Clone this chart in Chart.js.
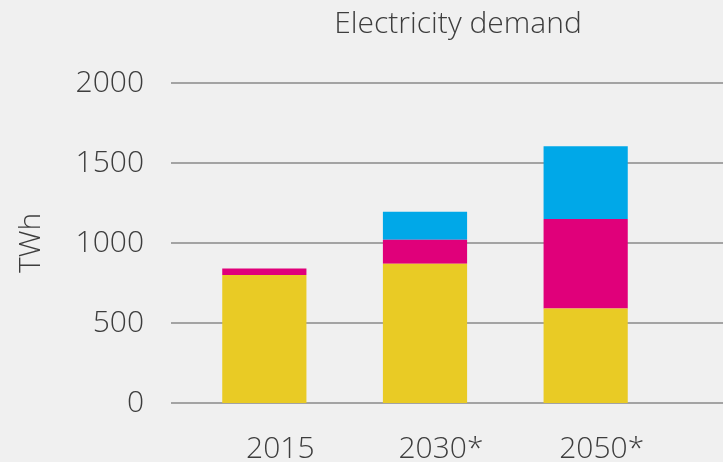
<!DOCTYPE html>
<html>
<head>
<meta charset="utf-8">
<script src="https://cdn.jsdelivr.net/npm/chart.js@4"></script>
<style>
  html, body { margin: 0; padding: 0; background: #f0f0f0; }
  #wrap { width: 723px; height: 462px; }
</style>
</head>
<body>
<div id="wrap"><canvas id="demand"></canvas></div>
<script>
const years = ['2015', '2030*', '2050*']
const yellowVals = [800, 870, 590]
const magentaVals = [40, 150, 560]
const cyanVals = [0, 175, 455]
const yTicks = [0, 500, 1000, 1500, 2000]

const font = 'Open Sans'
const textColor = '#3d3d3d'

// horizontal rules run wider than the bars' plot area, plus the heading
const rules = {
  id: 'rules',
  beforeDatasetsDraw(chart) {
    const ctx = chart.ctx
    const y = chart.scales.y
    ctx.save()
    ctx.strokeStyle = '#a3a3a3'
    ctx.lineWidth = 2
    yTicks.forEach(v => {
      const py = Math.round(y.getPixelForValue(v))
      ctx.beginPath()
      ctx.moveTo(chart.chartArea.left - 13, py)
      ctx.lineTo(chart.width, py)
      ctx.stroke()
    })
    ctx.restore()
  },
  afterDraw(chart) {
    const ctx = chart.ctx
    ctx.save()
    ctx.fillStyle = textColor
    ctx.font = '300 30px "' + font + '"'
    ctx.textAlign = 'center'
    ctx.textBaseline = 'middle'
    ctx.fillText('Electricity demand', 458, 24)
    ctx.restore()
  }
}

const demand = new Chart(document.getElementById('demand').getContext('2d'), {
  type: 'bar',
  data: {
    labels: years,
    datasets: [
      { data: yellowVals, backgroundColor: '#e9cb25' },
      { data: magentaVals, backgroundColor: '#e0007a' },
      { data: cyanVals, backgroundColor: '#00a8e8' }
    ]
  },
  options: {
    responsive: true,
    maintainAspectRatio: false,
    animation: false,
    layout: {
      padding: { top: 83, right: 57, bottom: 0, left: 0 }
    },
    datasets: {
      bar: { barPercentage: 0.524, categoryPercentage: 1 }
    },
    scales: {
      x: {
        stacked: true,
        grid: { display: false },
        border: { display: false },
        afterFit(scale) { scale.height = 59 },
        ticks: {
          color: textColor,
          padding: 23,
          labelOffset: 16,
          maxRotation: 0,
          font: { family: font, size: 30, weight: 300, lineHeight: 1 }
        }
      },
      y: {
        stacked: true,
        min: 0,
        max: 2000,
        grid: { display: false, drawTicks: false },
        border: { display: false },
        afterFit(scale) { scale.width = 184 },
        afterBuildTicks(scale) { scale.ticks = yTicks.map(v => ({ value: v })) },
        ticks: {
          color: textColor,
          padding: 40,
          callback: v => String(v),
          font: { family: font, size: 30, weight: 300 }
        },
        title: {
          display: true,
          text: 'TWh',
          color: textColor,
          padding: { top: 13, bottom: 0 },
          font: { family: font, size: 30, weight: 300 }
        }
      }
    },
    plugins: {
      legend: { display: false },
      tooltip: { enabled: false }
    }
  },
  plugins: [rules]
})
</script>
</body>
</html>
